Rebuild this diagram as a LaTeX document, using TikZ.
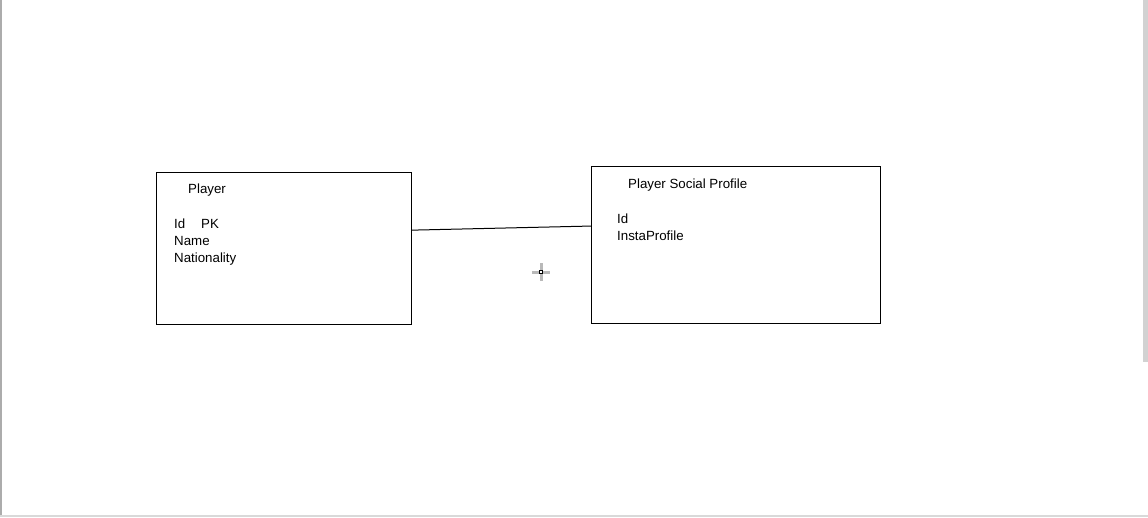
\documentclass[tikz,border=0pt]{standalone}
\usepackage{fontspec}
\setmainfont{Liberation Sans}
\usetikzlibrary{positioning,calc}

\tikzset{
  entity/.style={draw=black, line width=1pt, inner sep=0pt, anchor=north west},
  label/.style={anchor=base west, inner sep=0pt, font=\fontsize{13.3}{16}\selectfont},
  link/.style={draw=black, line width=1pt},
  edge/.style={fill=gray!65, draw=none}
}

\begin{document}
\begin{tikzpicture}[x=1pt,y=-1pt]
  \useasboundingbox (0,0) rectangle (1148,517);
  % window edges of the screenshot
  \fill[edge] (0,0) rectangle (2,517);
  \fill[edge, fill=gray!35] (1143,0) rectangle (1148,362);
  \fill[edge, fill=gray!30] (0,515) rectangle (1148,517);

  % entities
  \node[entity, minimum width=255pt, minimum height=152pt] (player) at (156,172) {};
  \node[entity, minimum width=289pt, minimum height=157pt] (social) at (591,166) {};

  % player texts
  \node[label] (ptitle) at (188,193) {Player};
  \node[label] (pid) at (174,228) {Id};
  \node[label] (ppk) at (201,228) {PK};
  \node[label] (pname) at (174,245) {Name};
  \node[label] (pnat) at (174,262) {Nationality};

  % social profile texts
  \node[label] (stitle) at (628,188) {Player Social Profile};
  \node[label] (sid) at (617,223) {Id};
  \node[label] (sinsta) at (617,240) {InstaProfile};

  % relation
  \draw[link] ($(player.north east)!0.38!(player.south east)$)
    -- ($(social.north west)!0.38!(social.south west)$);

  % mouse cursor
  \coordinate (cursor) at (541,272);
  \draw[gray!55, line width=3pt] ($(cursor)+(-9,0)$) -- ($(cursor)+(9,0)$);
  \draw[gray!55, line width=3pt] ($(cursor)+(0,-9)$) -- ($(cursor)+(0,9)$);
  \draw[black, fill=white, line width=0.8pt] ($(cursor)+(-1.5,-1.5)$) rectangle ($(cursor)+(1.5,1.5)$);
\end{tikzpicture}
\end{document}
